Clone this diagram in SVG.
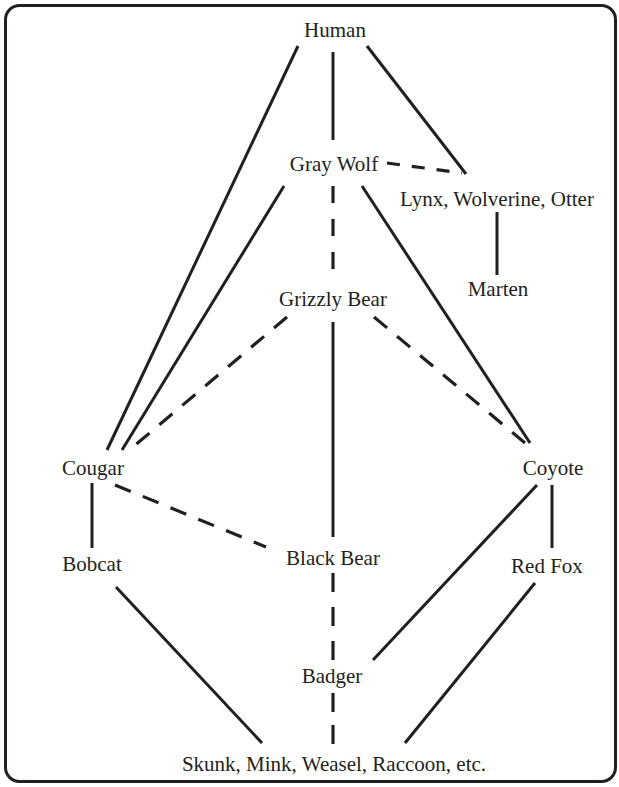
<svg xmlns="http://www.w3.org/2000/svg" width="619" height="787" viewBox="0 0 619 787">
<style>
.lbl{font-family:"Liberation Serif","Times New Roman",serif;font-size:21px;fill:#231f20;text-anchor:middle}
.s{stroke:#231f20;stroke-width:3;fill:none}
.d{stroke:#231f20;stroke-width:3.2;fill:none;stroke-dasharray:17 13}
.dv{stroke:#231f20;stroke-width:3.2;fill:none;stroke-dasharray:19 15}
</style>
<rect x="5.5" y="5.5" width="610" height="776" rx="14" ry="14" fill="#fff" stroke="#231f20" stroke-width="3"/>
<g id="connectors">
<line class="s" x1="298" y1="46" x2="107" y2="450"/>
<line class="s" x1="333" y1="52" x2="333" y2="140"/>
<line class="s" x1="367" y1="46" x2="466" y2="174"/>
<line class="d" x1="387" y1="163" x2="462" y2="173" style="stroke-dasharray:13 12"/>
<line class="s" x1="284" y1="186" x2="122" y2="450"/>
<line class="dv" x1="333" y1="186" x2="333" y2="270" style="stroke-dasharray:17 16"/>
<line class="s" x1="362" y1="186" x2="530" y2="443"/>
<line class="s" x1="497" y1="212" x2="497" y2="275"/>
<line class="d" x1="287" y1="317" x2="133" y2="447"/>
<line class="s" x1="333" y1="322" x2="333" y2="537"/>
<line class="d" x1="374" y1="317" x2="525" y2="443"/>
<line class="s" x1="92" y1="483" x2="92" y2="548"/>
<line class="d" x1="115" y1="485" x2="266" y2="547"/>
<line class="s" x1="552" y1="485" x2="552" y2="548"/>
<line class="s" x1="537" y1="485" x2="373" y2="660"/>
<line class="dv" x1="333" y1="573" x2="333" y2="660"/>
<line class="dv" x1="333" y1="693" x2="333" y2="745" style="stroke-dasharray:19 13"/>
<line class="s" x1="116" y1="587" x2="262" y2="743"/>
<line class="s" x1="535" y1="583" x2="405" y2="743"/>
</g>
<g id="human"><text class="lbl" x="335" y="37">Human</text></g>
<g id="graywolf"><text class="lbl" x="334" y="171">Gray Wolf</text></g>
<g id="lynx"><text class="lbl" x="497" y="206">Lynx, Wolverine, Otter</text></g>
<g id="marten"><text class="lbl" x="498" y="296">Marten</text></g>
<g id="grizzly"><text class="lbl" x="333" y="306">Grizzly Bear</text></g>
<g id="cougar"><text class="lbl" x="93" y="475">Cougar</text></g>
<g id="coyote"><text class="lbl" x="553" y="475">Coyote</text></g>
<g id="bobcat"><text class="lbl" x="92" y="571">Bobcat</text></g>
<g id="blackbear"><text class="lbl" x="333" y="565">Black Bear</text></g>
<g id="redfox"><text class="lbl" x="547" y="573">Red Fox</text></g>
<g id="badger"><text class="lbl" x="332" y="683">Badger</text></g>
<g id="skunk"><text class="lbl" x="334" y="771">Skunk, Mink, Weasel, Raccoon, etc.</text></g>
</svg>
